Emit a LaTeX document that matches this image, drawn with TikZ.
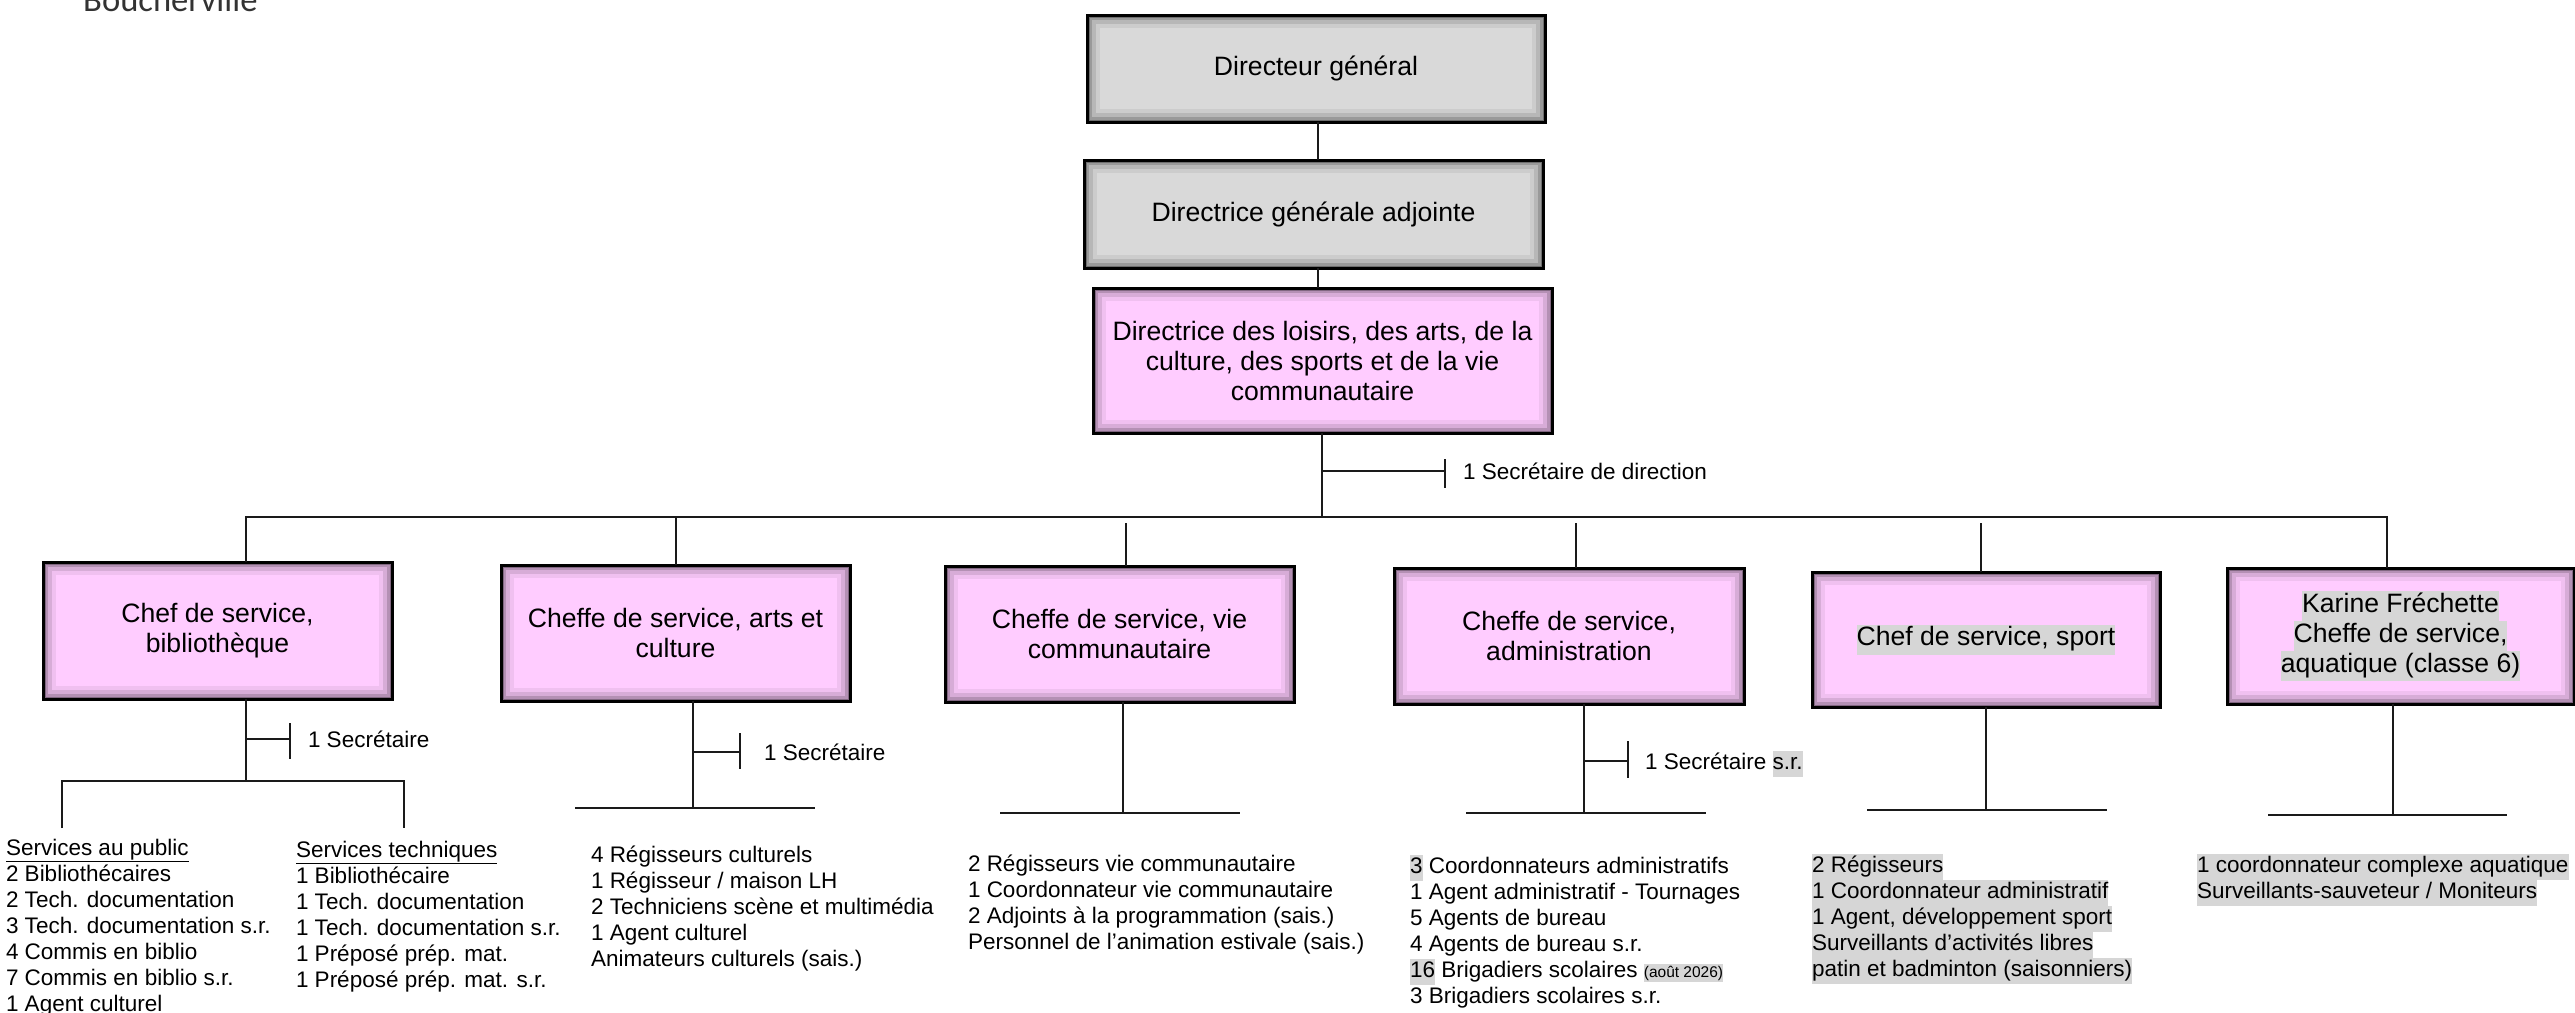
\documentclass[tikz,border=0pt]{standalone}
\usepackage{fontspec}
\setmainfont{Liberation Sans}
\newfontfamily\villefont{Carlito}
\definecolor{boxgrey}{HTML}{D9D9D9}
\definecolor{boxpink}{HTML}{FFCCFF}
\definecolor{hlgray}{HTML}{D6D6D6}
\definecolor{linecol}{HTML}{1A1A1A}
\definecolor{villegray}{HTML}{333333}
\newcommand{\hlt}[1]{{\setlength{\fboxsep}{0pt}\colorbox{hlgray}{\strut #1}}}
\newcommand{\boxfont}{\fontsize{26.6}{30}\selectfont}
\newcommand{\listfont}{\fontsize{22.5}{26}\selectfont}
\newcommand{\smallnote}{\fontsize{15.5}{18}\selectfont}
\tikzset{
  orgbox/.style={draw=black, line width=3, outer sep=0, inner sep=0, align=center, font=\boxfont,
    path picture={
      \foreach \w/\o in {26/0.06, 18/0.1, 10/0.16, 5/0.28}
        \draw[line width=\w, black, opacity=\o] (path picture bounding box.south west) rectangle (path picture bounding box.north east);
    }},
  greybox/.style={orgbox, fill=boxgrey},
  pinkbox/.style={orgbox, fill=boxpink},
  conn/.style={draw=linecol, line width=2},
  bar/.style={draw=linecol, line width=2.6},
  listtext/.style={font=\listfont, align=left, inner sep=0, outer sep=0, anchor=north west},
  sectext/.style={font=\listfont, inner sep=0, outer sep=0, anchor=base west},
}
\begin{document}
\begin{tikzpicture}[x=1pt,y=-1pt]
\useasboundingbox (0,0) rectangle (2575,1012);
\clip (0,0) rectangle (2575,1012);
\fill[white] (0,0) rectangle (2575,1012);

% title fragment
\node[anchor=base west, inner sep=0, font=\villefont\fontsize{34.6}{40}\selectfont, text=villegray] (ville) at (83,11) {Boucherville};

% top boxes
\node[greybox, minimum width=458, minimum height=107] (dg) at (1316,68.5) {Directeur général};
\node[greybox, minimum width=459, minimum height=108] (dga) at (1313.5,214) {Directrice générale adjointe};
\node[pinkbox, minimum width=459, minimum height=145] (dir) at (1322.5,360.5) {Directrice des loisirs, des arts, de la\\culture, des sports et de la vie\\communautaire};

% service heads
\node[pinkbox, minimum width=349, minimum height=137] (bib) at (217.5,630.5) {Chef de service,\\bibliothèque};
\node[pinkbox, minimum width=349, minimum height=136] (arts) at (675.5,633) {Cheffe de service, arts et\\culture};
\node[pinkbox, minimum width=349, minimum height=136] (vie) at (1119.5,634) {Cheffe de service, vie\\communautaire};
\node[pinkbox, minimum width=350, minimum height=136] (adm) at (1569,636) {Cheffe de service,\\administration};
\node[pinkbox, minimum width=348, minimum height=135] (spo) at (1986,639.5) {\hlt{Chef de service, sport}};
\node[pinkbox, minimum width=347, minimum height=136] (aqua) at (2400.5,636) {\hlt{Karine Fréchette}\\\hlt{Cheffe de service,}\\\hlt{aquatique (classe 6)}};

% top connectors
\coordinate (c1) at (1318,0);
\draw[conn] (dg.south -| c1) -- (dga.north -| c1);
\draw[conn] (dga.south -| c1) -- (dir.north -| c1);
\coordinate (mainJ) at (1322,517);
\draw[conn] (dir.south -| mainJ) -- (mainJ);
\coordinate (secT) at (1445,471);
\coordinate (secTa) at (1445,459);
\coordinate (secTb) at (1445,488);
\draw[conn] (secT -| mainJ) -- (secT);
\draw[conn] (secTa) -- (secTb);
\node[sectext] (secdir) at (1463,479) {1 Secrétaire de direction};

% main bus
\coordinate (busL) at (246,517);
\coordinate (busR) at (2387,517);
\draw[conn] (bib.north -| busL) -- (busL) -- (busR) -- (aqua.north -| busR);
\coordinate (dArts) at (676,517);
\coordinate (dVie) at (1126,523);
\coordinate (dAdm) at (1576,523);
\coordinate (dSpo) at (1981,523);
\draw[conn] (dArts) -- (arts.north -| dArts);
\draw[conn] (dVie) -- (vie.north -| dVie);
\draw[conn] (dAdm) -- (adm.north -| dAdm);
\draw[conn] (dSpo) -- (spo.north -| dSpo);

% bibliotheque branch
\coordinate (bJ) at (246,781);
\draw[conn] (bib.south -| bJ) -- (bJ);
\coordinate (bT) at (290,739);
\coordinate (bTa) at (290,723);
\coordinate (bTb) at (290,759);
\draw[conn] (bT -| bJ) -- (bT);
\draw[conn] (bTa) -- (bTb);
\node[sectext] (bsec) at (308,747) {1 Secrétaire};
\coordinate (bL) at (62,781);
\coordinate (bR) at (404,781);
\coordinate (bLd) at (62,828);
\coordinate (bRd) at (404,828);
\draw[bar] (bLd) -- (bL) -- (bR) -- (bRd);
\node[listtext] (bibpub) at (6,836.8) {\strut\underline{Services au public}\\2 Bibliothécaires\\2 Tech. documentation\\3 Tech. documentation s.r.\\4 Commis en biblio\\7 Commis en biblio s.r.\\1 Agent culturel};
\node[listtext] (bibtech) at (296,838.8) {\strut\underline{Services techniques}\\1 Bibliothécaire\\1 Tech. documentation\\1 Tech. documentation s.r.\\1 Préposé prép. mat.\\1 Préposé prép. mat. s.r.};

% arts branch
\coordinate (aJ) at (693,808);
\draw[conn] (arts.south -| aJ) -- (aJ);
\coordinate (aT) at (740,752);
\coordinate (aTa) at (740,733);
\coordinate (aTb) at (740,769);
\draw[conn] (aT -| aJ) -- (aT);
\draw[conn] (aTa) -- (aTb);
\node[sectext] (asec) at (764,760) {1 Secrétaire};
\coordinate (aL) at (575,808);
\coordinate (aR) at (815,808);
\draw[bar] (aL) -- (aR);
\node[listtext] (artslist) at (591,843.8) {\strut 4 Régisseurs culturels\\1 Régisseur / maison LH\\2 Techniciens scène et multimédia\\1 Agent culturel\\Animateurs culturels (sais.)};

% vie communautaire branch
\coordinate (vJ) at (1123,813);
\draw[conn] (vie.south -| vJ) -- (vJ);
\coordinate (vL) at (1000,813);
\coordinate (vR) at (1240,813);
\draw[bar] (vL) -- (vR);
\node[listtext] (vielist) at (968,852.8) {\strut 2 Régisseurs vie communautaire\\1 Coordonnateur vie communautaire\\2 Adjoints à la programmation (sais.)\\Personnel de l’animation estivale (sais.)};

% administration branch
\coordinate (dJ) at (1584,813);
\draw[conn] (adm.south -| dJ) -- (dJ);
\coordinate (dT) at (1628,761);
\coordinate (dTa) at (1628,741);
\coordinate (dTb) at (1628,778);
\draw[conn] (dT -| dJ) -- (dT);
\draw[conn] (dTa) -- (dTb);
\node[sectext] (dsec) at (1645,769) {1 Secrétaire \hlt{s.r.}};
\coordinate (dL) at (1466,813);
\coordinate (dR) at (1706,813);
\draw[bar] (dL) -- (dR);
\node[listtext] (admlist) at (1410,854.8) {\hlt{3} Coordonnateurs administratifs\\1 Agent administratif - Tournages\\5 Agents de bureau\\4 Agents de bureau s.r.\\\hlt{16} Brigadiers scolaires {\smallnote\hlt{(août 2026)}}\\3 Brigadiers scolaires s.r.};

% sport branch
\coordinate (sJ) at (1986,810);
\draw[conn] (spo.south -| sJ) -- (sJ);
\coordinate (sL) at (1867,810);
\coordinate (sR) at (2107,810);
\draw[bar] (sL) -- (sR);
\node[listtext] (spolist) at (1812,853.8) {\hlt{2 Régisseurs}\\\hlt{1 Coordonnateur administratif}\\\hlt{1 Agent, développement sport}\\\hlt{Surveillants d’activités libres}\\\hlt{patin et badminton (saisonniers)}};

% aquatique branch
\coordinate (qJ) at (2393,815);
\draw[conn] (aqua.south -| qJ) -- (qJ);
\coordinate (qL) at (2268,815);
\coordinate (qR) at (2507,815);
\draw[bar] (qL) -- (qR);
\node[listtext] (aqualist) at (2197,853.8) {\hlt{1 coordonnateur complexe aquatique}\\\hlt{Surveillants-sauveteur / Moniteurs}};
\end{tikzpicture}
\end{document}
